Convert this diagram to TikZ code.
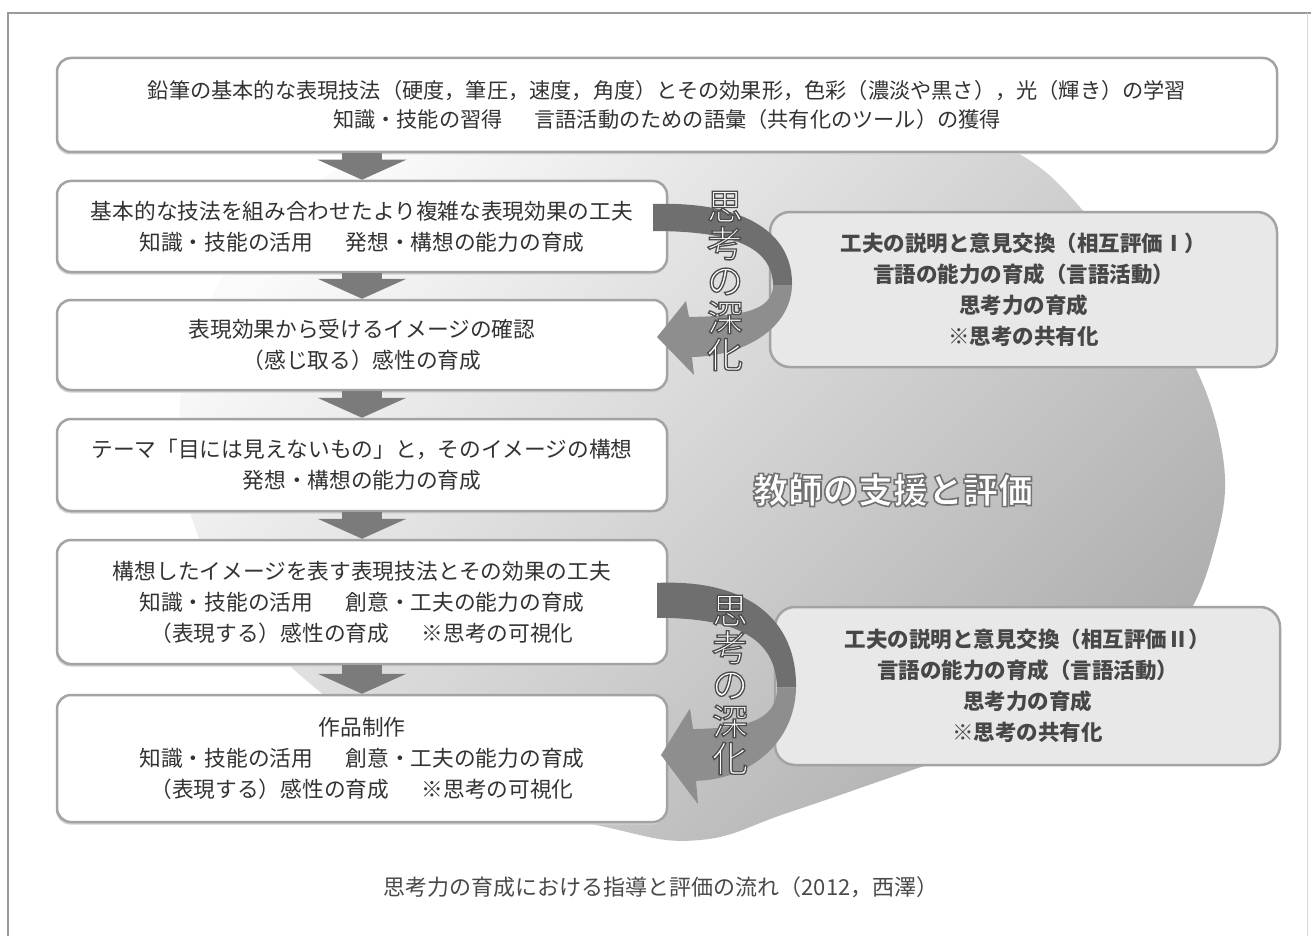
\documentclass[tikz,border=0pt]{standalone}
\usepackage{fontspec}
\newfontfamily\jp{Noto Sans CJK JP}
\usetikzlibrary{calc,arrows.meta,shadows}
\definecolor{boxline}{HTML}{A3A3A3}
\definecolor{txt}{HTML}{333333}
\definecolor{rtxt}{HTML}{474747}
\definecolor{rfill}{HTML}{E8E8E8}
\definecolor{arrc}{HTML}{7B7B7B}
\definecolor{ribdark}{HTML}{6F6F6F}
\definecolor{riblight}{HTML}{8E8E8E}
\definecolor{ellA}{HTML}{FAFAFA}
\definecolor{ellB}{HTML}{AEAEAE}
\definecolor{framec}{HTML}{9A9A9A}
\definecolor{captc}{HTML}{4A4A4A}
% outlined text: fill white, stroke grey (text rendering mode 2)
\newcommand\outl[3]{\special{pdf:literal direct 2 Tr #1 w #2 G}#3\special{pdf:literal direct 0 Tr}}
\begin{document}
\begin{tikzpicture}[x=1pt,y=-1pt,
  lbox/.style={draw=boxline, line width=2.5pt, fill=white, rounded corners=14pt,
    align=center, text=txt, font=\jp\fontsize{21.7}{31}\selectfont, inner sep=0pt,
    general shadow={fill=gray!35, shadow yshift=-2.5pt, shadow xshift=-1pt}},
  rbox/.style={draw=boxline, line width=2.5pt, fill=rfill, rounded corners=20pt,
    align=center, text=rtxt, font=\jp\bfseries\fontsize{21.5}{31}\selectfont, inner sep=0pt},
  downarr/.style={draw=arrc, line width=40pt, -{Triangle[width=88pt,length=20pt]}},
  vtext/.style={font=\jp\fontsize{36}{37}\selectfont, align=center, inner sep=0pt, text=white},
  ctext/.style={font=\jp\bfseries\fontsize{35}{40}\selectfont, inner sep=0pt, text=white}]
\useasboundingbox (0,0) rectangle (1311,936);
\fill[white] (0,0) rectangle (1311,936);
\draw[framec,line width=1.3pt] (8,936) -- (8,13) -- (1311,13);
\draw[framec!40,line width=1pt] (1307,13) -- (1307,936);
% background ellipse
\shade[top color=ellA,bottom color=ellB,shading angle=45]
  plot[smooth cycle, tension=0.7] coordinates {(700,95) (880,110) (1012,150) (1096,225) (1170,320)
  (1220,440) (1215,545) (1165,645) (1060,720) (918,768) (790,812) (700,840) (610,828) (480,790)
  (330,700) (220,580) (180,440) (210,300) (320,180) (480,115)};
% left boxes
\node[lbox, font=\jp\fontsize{21.2}{29}\selectfont, minimum width=1220, minimum height=94] (b1) at (667,105)
  {鉛筆の基本的な表現技法（硬度，筆圧，速度，角度）とその効果形，色彩（濃淡や黒さ），光（輝き）の学習\\
   知識・技能の習得\hspace{1.5em}言語活動のための語彙（共有化のツール）の獲得};
\node[lbox, minimum width=610, minimum height=91] (b2) at (362,226.5)
  {基本的な技法を組み合わせたより複雑な表現効果の工夫\\知識・技能の活用\hspace{1.5em}発想・構想の能力の育成};
\node[lbox, minimum width=610, minimum height=90] (b3) at (362,345)
  {表現効果から受けるイメージの確認\\（感じ取る）感性の育成};
\node[lbox, minimum width=610, minimum height=92] (b4) at (362,465)
  {テーマ「目には見えないもの」と，そのイメージの構想\\発想・構想の能力の育成};
\node[lbox, minimum width=610, minimum height=124] (b5) at (362,602)
  {構想したイメージを表す表現技法とその効果の工夫\\知識・技能の活用\hspace{1.5em}創意・工夫の能力の育成\\（表現する）感性の育成\hspace{1.5em}※思考の可視化};
\node[lbox, minimum width=610, minimum height=127] (b6) at (362,758.5)
  {作品制作\\知識・技能の活用\hspace{1.5em}創意・工夫の能力の育成\\（表現する）感性の育成\hspace{1.5em}※思考の可視化};
% right boxes
\node[rbox, minimum width=507, minimum height=155] (r1) at (1023.5,289.5)
  {工夫の説明と意見交換（相互評価Ⅰ）\\言語の能力の育成（言語活動）\\思考力の育成\\※思考の共有化};
\node[rbox, minimum width=505, minimum height=158] (r2) at (1027.5,686)
  {工夫の説明と意見交換（相互評価Ⅱ）\\言語の能力の育成（言語活動）\\思考力の育成\\※思考の共有化};
% down arrows
\draw[downarr] (b2.north |- b1.south) -- (b2.north);
\draw[downarr] (b2.south) -- (b3.north);
\draw[downarr] (b3.south) -- (b4.north);
\draw[downarr] (b4.south) -- (b5.north);
\draw[downarr] (b5.south) -- (b6.north);
% curved ribbons
\begin{scope}[shift={(0,218)}]
  \fill[ribdark] (653,-14) .. controls (745,-17) and (793,15) .. (792,67) -- (773,67)
    .. controls (772,30) and (735,13) .. (653,13) -- cycle;
  \fill[riblight] (792,67) .. controls (791,110) and (745,138) .. (692,139) -- (694,157) -- (657,119)
    -- (686,83) -- (689,99) .. controls (735,98) and (773,95) .. (773,67) -- cycle;
\end{scope}
\begin{scope}[shift={(4,601)}, yscale=1.294]
  \fill[ribdark] (653,-14) .. controls (745,-17) and (793,15) .. (792,67) -- (773,67)
    .. controls (772,30) and (735,13) .. (653,13) -- cycle;
  \fill[riblight] (792,67) .. controls (791,110) and (745,138) .. (692,139) -- (694,157) -- (657,119)
    -- (686,83) -- (689,99) .. controls (735,98) and (773,95) .. (773,67) -- cycle;
\end{scope}
% outlined texts
\node[vtext] (v1) at (725,281) {\outl{1.3}{0.3}{思\\考\\の\\深\\化}};
\node[vtext] (v2) at (730,685) {\outl{1.3}{0.3}{思\\考\\の\\深\\化}};
\node[ctext] (ct) at (893,490) {\outl{1.6}{0.45}{教師の支援と評価}};
% caption
\node[font=\jp\fontsize{22}{26}\selectfont, text=captc, inner sep=0pt] (cap) at (661,887)
  {思考力の育成における指導と評価の流れ（2012，西澤）};
\end{tikzpicture}
\end{document}
